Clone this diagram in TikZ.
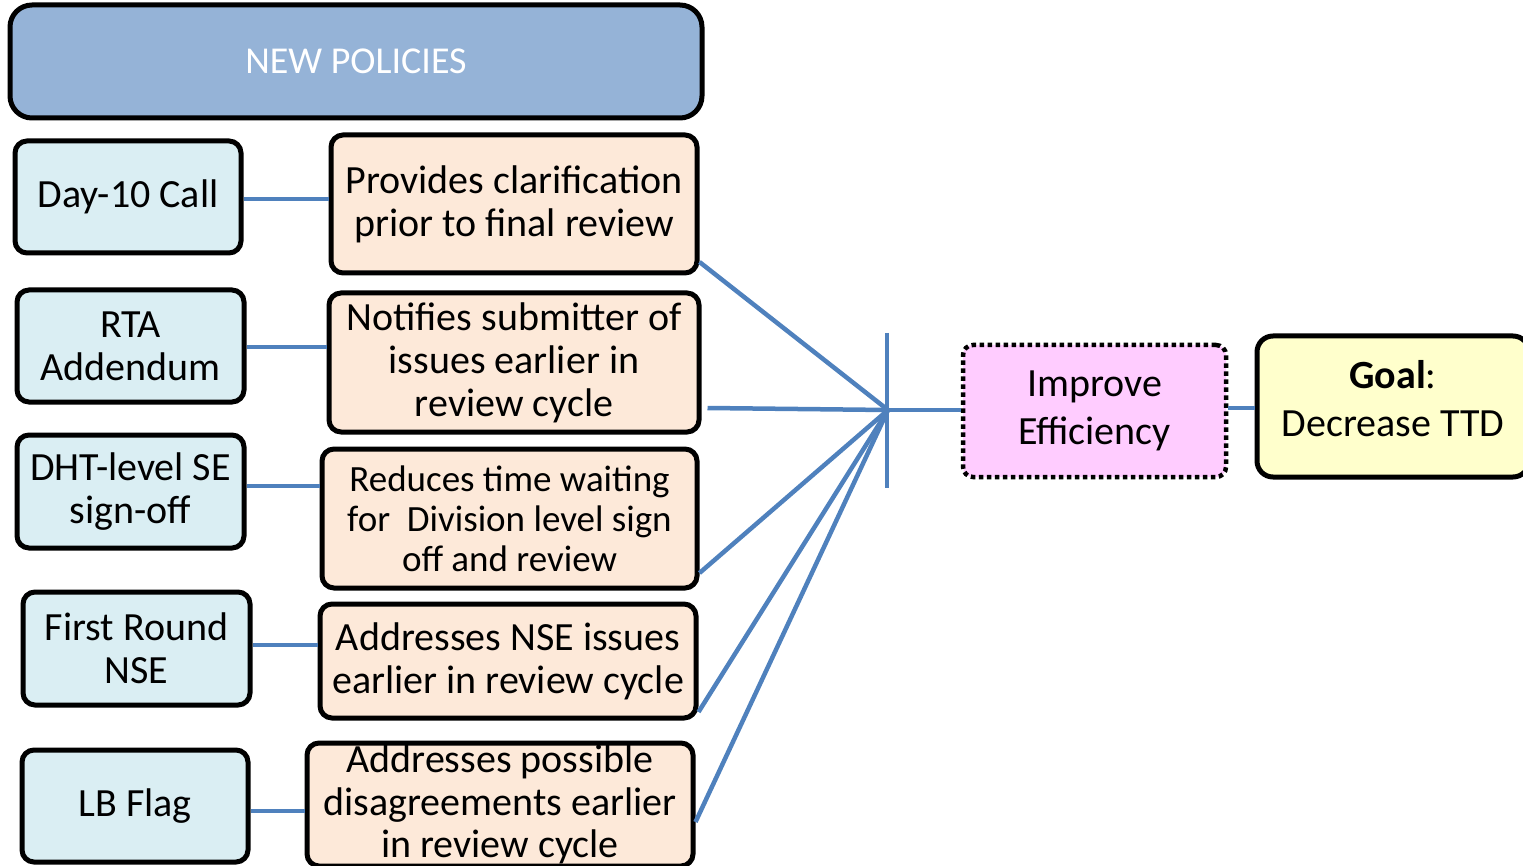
\documentclass[tikz,border=0pt]{standalone}
\usepackage{fontspec}
\setmainfont{Carlito}
\usetikzlibrary{positioning}

\definecolor{headblue}{HTML}{95B3D7}
\definecolor{policyblue}{HTML}{DAEEF3}
\definecolor{effectpeach}{HTML}{FDE9D9}
\definecolor{improvepink}{HTML}{FFCCFF}
\definecolor{goalyellow}{HTML}{FFFFCC}
\definecolor{linkblue}{HTML}{4F81BD}

\begin{document}
\begin{tikzpicture}[
    x = 1pt, y = -1pt, % one unit per pixel, y going down
    line width = 4pt,
    box/.style = {draw = black, line width = 5pt, rounded corners = 12pt,
                  inner sep = 0pt, align = center,
                  font = \fontsize{40}{43}\selectfont},
    link/.style = {draw = linkblue, line width = 4.5pt}
    ]
\tikzset{
    head/.style = {box, fill = headblue, rounded corners = 22pt,
                   text = white, font = \fontsize{38}{43}\selectfont},
    policy/.style = {box, fill = policyblue},
    effect/.style = {box, fill = effectpeach},
    improve/.style = {box, fill = improvepink, line width = 4.5pt,
                      dash pattern = on 4.5pt off 3.5pt, rounded corners = 10pt,
                      font = \fontsize{40}{48}\selectfont},
    goal/.style = {box, fill = goalyellow, rounded corners = 16pt,
                   font = \fontsize{40}{48}\selectfont}
    }
\useasboundingbox (0,0) rectangle (1523,866);

    \node[head, minimum width=692pt, minimum height=113pt] (H) at (356,61.5) {NEW POLICIES};

    % policies
    \node[policy, minimum width=226pt, minimum height=112pt] (B1) at (128,197) {Day-10 Call};
    \node[policy, minimum width=227pt, minimum height=112pt] (B2) at (130.5,346) {RTA\\Addendum};
    \node[policy, minimum width=227pt, minimum height=113pt] (B3) at (130.5,491.5) {DHT-level SE\\sign-off};
    \node[policy, minimum width=227pt, minimum height=113pt] (B4) at (136.5,648.5) {First Round\\NSE};
    \node[policy, minimum width=226pt, minimum height=112pt] (B5) at (135,806) {LB Flag};

    % effects
    \node[effect, minimum width=366pt, minimum height=138pt] (P1) at (514,204) {Provides clarification\\prior to final review};
    \node[effect, minimum width=370pt, minimum height=139pt] (P2) at (514,362.5) {Notifies submitter of\\issues earlier in\\review cycle};
    \node[effect, minimum width=375pt, minimum height=139pt, font=\fontsize{37}{40}\selectfont] (P3) at (509.5,518.5) {Reduces time waiting\\for~ Division level sign\\off and review};
    \node[effect, minimum width=376pt, minimum height=114pt] (P4) at (508,661) {Addresses NSE issues\\earlier in review cycle};
    \node[effect, minimum width=386pt, minimum height=123pt, font=\fontsize{40}{42.5}\selectfont] (P5) at (500,804.5) {Addresses possible\\disagreements earlier\\in review cycle};

    % outcome
    \node[improve, minimum width=263pt, minimum height=132pt] (E) at (1094.5,411) {Improve\\Efficiency};
    \node[goal, minimum width=272pt, minimum height=141pt] (G) at (1393,406.5) {\textbf{Goal}:\\Decrease TTD\\[-32pt]};

    \coordinate (hub) at (888,410);
    \coordinate (bartop) at (887,333);
    \coordinate (barbot) at (887,488);

    \foreach \i/\s in {1/-2,2/-1,3/5.5,4/3.5,5/-5}
        \draw[link] ([yshift=\s pt]B\i.east) -- ([yshift=\s pt]B\i.east -| P\i.west);

    \draw[link] ([yshift=-58pt]P1.east) -- (hub);
    \draw[link] ([yshift=-45.5pt,xshift=6pt]P2.east) -- (hub);
    \draw[link] ([yshift=-54.5pt]P3.east) -- (hub);
    \draw[link] ([yshift=-51pt]P4.east) -- (hub);
    \draw[link] ([yshift=-17.5pt]P5.east) -- (hub);
    \draw[link] (bartop) -- (barbot);
    \draw[link] (hub) -- (hub -| E.west);
    \draw[link] ([yshift=3pt]E.east) -- ([yshift=3pt]E.east -| G.west);
\end{tikzpicture}
\end{document}
